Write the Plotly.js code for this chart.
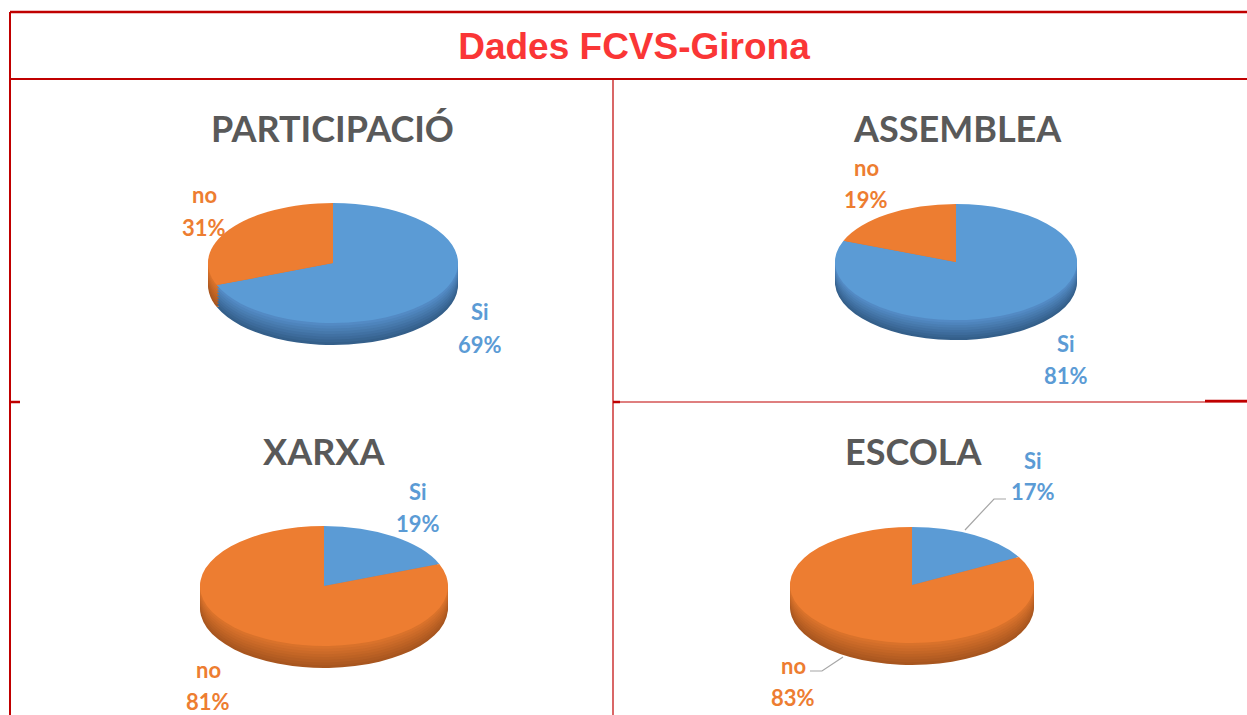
<!DOCTYPE html>
<html><head><meta charset="utf-8">
<script src="https://cdn.plot.ly/plotly-3.0.1.min.js"></script>
<style>html,body{margin:0;padding:0;background:#fff;overflow:hidden}</style>
</head><body><div id="chart" style="width:1247px;height:715px"></div>
<script>
// ---- data ----
const mainTitle = 'Dades FCVS-Girona';
const chartTitles = ['PARTICIPACIÓ', 'ASSEMBLEA', 'XARXA', 'ESCOLA'];
const categories = ['Si', 'no'];
const siValues = [69, 81, 19, 17];
const noValues = [31, 19, 81, 83];

// ---- styling / geometry ----
const W = 1247, H = 715;
const X = p => p / W, Y = p => 1 - p / H;
const topColors = ['#5B9BD5', '#ED7D31'];
const sideTop = ['#5790cc', '#e0762d'];
const sideBot = ['#345f8a', '#a8561f'];
const geo = [
  {cx: 333, cy: 263, rx: 125, ry: 60, t: 22, title: [332, 128], lab: {Si: [480, 312], no: [204, 195]}},
  {cx: 956, cy: 262, rx: 121, ry: 58, t: 20, title: [957, 128], lab: {Si: [1066, 343], no: [866, 167]}},
  {cx: 324, cy: 586, rx: 124, ry: 60, t: 22, title: [324, 451], lab: {Si: [418, 491], no: [208, 669]}},
  {cx: 912, cy: 585, rx: 122, ry: 58, t: 22, title: [913, 451], lab: {Si: [1033, 460], no: [793, 665]}}
];

function hex2rgb(h) { return [1, 3, 5].map(i => parseInt(h.substr(i, 2), 16)); }
function mix(a, b, f) {
  const A = hex2rgb(a), B = hex2rgb(b);
  return 'rgb(' + A.map((v, i) => Math.round(v + (B[i] - v) * f)).join(',') + ')';
}

const data = [], meta = [], annotations = [];
const NSIDE = 8;
chartTitles.forEach((ttl, i) => {
  const g = geo[i];
  const values = [siValues[i], noValues[i]];
  const domain = {x: [X(g.cx - g.rx), X(g.cx + g.rx)], y: [Y(g.cy + g.rx), Y(g.cy - g.rx)]};
  const k = g.ry / g.rx;
  for (let s = NSIDE; s >= 0; s--) {
    const f = s / NSIDE;
    const colors = s === 0 ? topColors : [0, 1].map(c => mix(sideTop[c], sideBot[c], f));
    data.push({
      type: 'pie', labels: categories, values: values, sort: false,
      direction: 'clockwise', rotation: 0, domain: domain,
      marker: {colors: colors, line: {width: 0}},
      textinfo: 'none', hoverinfo: 'skip', showlegend: false
    });
    meta.push({cy: g.cy, dy: g.t * f, k: k});
  }
  annotations.push({
    xref: 'paper', yref: 'paper', x: X(g.title[0]), y: Y(g.title[1]),
    xanchor: 'center', yanchor: 'middle', showarrow: false, text: '<b>' + ttl + '</b>',
    font: {family: 'Lato', size: 36, color: '#595959'}
  });
  categories.forEach((cat, c) => {
    const pos = g.lab[cat];
    const col = topColors[c];
    annotations.push({xref: 'paper', yref: 'paper', x: X(pos[0]), y: Y(pos[1]),
      xanchor: 'center', yanchor: 'middle', showarrow: false, text: '<b>' + cat + '</b>',
      font: {family: 'Lato', size: 22, color: col}});
    annotations.push({xref: 'paper', yref: 'paper', x: X(pos[0]), y: Y(pos[1] + 32),
      xanchor: 'center', yanchor: 'middle', showarrow: false, text: '<b>' + values[c] + '%</b>',
      font: {family: 'Lato', size: 22, color: col}});
  });
});

const red = '#C00000';
function line(x0, y0, x1, y1, w) {
  return {type: 'line', xref: 'paper', yref: 'paper', x0: X(x0), y0: Y(y0), x1: X(x1), y1: Y(y1),
    line: {color: red, width: w}};
}
const shapes = [
  line(10, 12, 1247, 12, 2.5),
  line(10, 12, 10, 715, 2),
  line(10, 79, 1247, 79, 2),
  line(613, 79, 613, 715, 1.2),
  line(10, 402, 20, 402, 2.5),
  line(613, 402, 1247, 402, 1.2),
  line(613, 402, 620, 402, 2.5),
  line(1205, 401, 1247, 401, 2.5),
  {type: 'path', xref: 'paper', yref: 'paper', line: {color: '#a6a6a6', width: 1.2},
   path: `M${X(965)},${Y(530)} L${X(994)},${Y(499)} L${X(1006)},${Y(499)}`},
  {type: 'path', xref: 'paper', yref: 'paper', line: {color: '#a6a6a6', width: 1.2},
   path: `M${X(843)},${Y(657)} L${X(822)},${Y(671)} L${X(810)},${Y(671)}`}
];

const layout = {
  width: W, height: H, margin: {l: 0, r: 0, t: 0, b: 0},
  paper_bgcolor: '#ffffff',
  title: {text: '<b>' + mainTitle + '</b>', x: X(634), xanchor: 'center', xref: 'paper',
    y: Y(46), yanchor: 'middle', yref: 'paper',
    font: {family: 'Liberation Sans', size: 37, color: '#FA3636'}},
  annotations: annotations,
  shapes: shapes
};

Plotly.newPlot('chart', data, layout, {staticPlot: true, displayModeBar: false}).then(() => {
  const gs = document.querySelectorAll('.pielayer g.trace');
  gs.forEach((gEl, idx) => {
    const m = meta[idx];
    if (!m) return;
    gEl.setAttribute('transform', `translate(0,${m.cy + m.dy}) scale(1,${m.k}) translate(0,${-m.cy})`);
  });
});
</script>
</body></html>
